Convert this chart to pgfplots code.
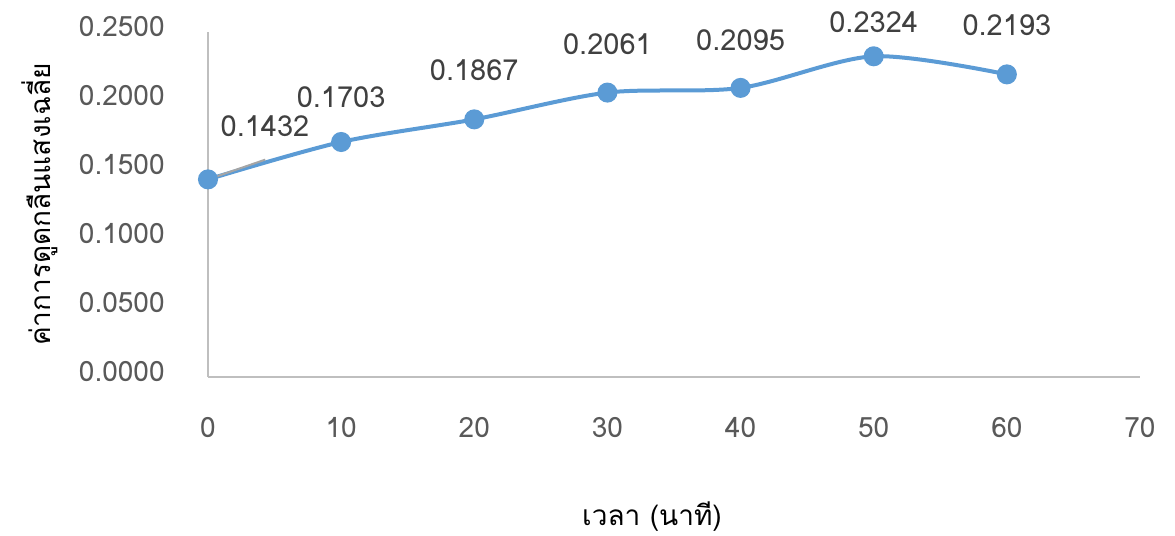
\documentclass[border=0pt]{standalone}
\usepackage{pgfplots}
\pgfplotsset{compat=1.18}
\usepackage{pgfplotstable}
\usepackage{fontspec}
\setmainfont[Script=Thai]{Loma}
\definecolor{lineblue}{HTML}{5B9BD5}
\definecolor{axisgray}{HTML}{BFBFBF}
\definecolor{stubgray}{HTML}{A5A5A5}
\definecolor{ticktext}{HTML}{595959}
\definecolor{labeltext}{HTML}{404040}

\pgfplotstableread{
x y lab dx dy
0 0.1432 0.1432 28.5 26.5
10 0.1703 0.1703 0 22.5
20 0.1867 0.1867 0 24.5
30 0.2061 0.2061 0 24
40 0.2095 0.2095 0 24
50 0.2324 0.2324 0 17
60 0.2193 0.2193 0 24.5
}\datatable

\begin{document}
\begin{tikzpicture}
\begin{axis}[
  scale only axis, width=466pt, height=172.5pt,
  xmin=0, xmax=70, ymin=0, ymax=0.25,
  xtick={0,10,20,30,40,50,60,70},
  ytick={0,0.05,0.1,0.15,0.2,0.25},
  axis x line*=bottom, axis y line*=left,
  axis line style={draw=axisgray, line width=0.7pt},
  major tick length=0pt,
  clip=false,
  /pgf/number format/assume math mode=true,
  tick label style={font=\fontsize{14}{16}\selectfont, text=ticktext, inner sep=0pt},
  yticklabel style={/pgf/number format/.cd, fixed, fixed zerofill, precision=4, /tikz/.cd, anchor=east, xshift=-21.5pt, yshift=2.5pt},
  xticklabel style={anchor=center, yshift=-25.5pt},
  xlabel={เวลา (นาที)},
  ylabel={ค่าการดูดกลืนแสงเฉลี่ย},
  label style={font=\fontsize{14}{16}\selectfont, text=black, inner sep=0pt},
  xlabel style={at={(rel axis cs:0,0)}, anchor=center, xshift=222pt, yshift=-70pt},
  ylabel style={at={(rel axis cs:0,0.5)}, anchor=center, yshift=84pt},
]
\addplot[lineblue, line width=2pt, smooth, mark=*, mark size=4pt, mark options={fill=lineblue, draw=lineblue}] table[x=x, y=y] {\datatable};
\addplot[stubgray, line width=1pt] coordinates {(0,0.1432) (4.3,0.1575)};
\addplot[draw=none, mark=none, nodes near coords, point meta=explicit symbolic,
  visualization depends on={\thisrow{dx} \as \labdx},
  visualization depends on={\thisrow{dy} \as \labdy},
  nodes near coords style={anchor=center, inner sep=0pt, xshift=\labdx pt, yshift=\labdy pt, text=labeltext, font=\fontsize{14.5}{16}\selectfont}]
  table[x=x, y=y, meta=lab] {\datatable};
\end{axis}
\pgfresetboundingbox
\path[use as bounding box] (-104pt,-79.5pt) rectangle (483.5pt,188.5pt);
\end{tikzpicture}
\end{document}
